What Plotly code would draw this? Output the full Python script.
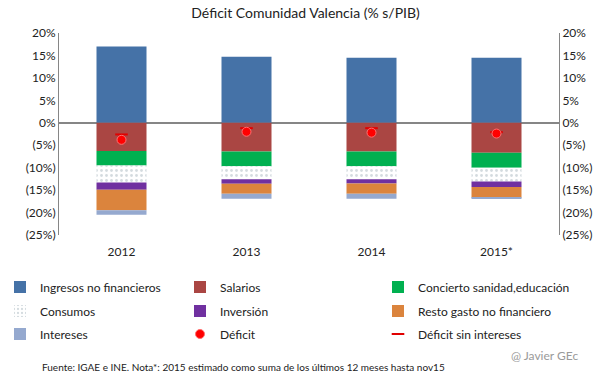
import plotly.graph_objects as go

years = ["2012", "2013", "2014", "2015*"]
ingresos = [17.0, 14.7, 14.5, 14.5]
salarios = [-6.3, -6.4, -6.4, -6.7]
concierto = [-3.2, -3.3, -3.3, -3.3]
consumos = [-3.8, -2.9, -2.9, -3.1]
inversion = [-1.6, -1.0, -0.9, -1.2]
resto = [-4.6, -2.2, -2.3, -2.4]
intereses = [-1.0, -1.1, -1.1, -0.3]
deficit = [-3.8, -2.0, -2.2, -2.4]
deficit_sin_int = [-2.6, -1.2, -1.2, -2.1]

tick_vals = [20, 15, 10, 5, 0, -5, -10, -15, -20, -25]
tick_text = ["20%", "15%", "10%", "5%", "0%", "(5%)", "(10%)", "(15%)", "(20%)", "(25%)"]

FONT = "Lato"
W, H = 605, 378
# legend slot positions (text left x, row centre y) in pixels
col_x = [40, 220, 418]
row_y = [287, 311, 334]

fig = go.Figure()
legend_layouts = {}
slot = [0]

def next_legend():
    i = slot[0]
    slot[0] += 1
    r, c = divmod(i, 3)
    name = "legend" if i == 0 else f"legend{i + 1}"
    legend_layouts[name] = dict(
        orientation="h", xref="container", yref="container",
        x=(col_x[c] - 40) / W, y=1 - row_y[r] / H, xanchor="left", yanchor="middle",
        itemwidth=30, bgcolor="rgba(0,0,0,0)",
        font=dict(family=FONT, size=12, color="#222222"))
    return name

def bar(name, vals, color, pattern=None):
    kw = dict(x=years, y=vals, name=name, marker_color=color, marker_line_width=0,
              legend=next_legend())
    if pattern:
        kw["marker_pattern"] = pattern
    fig.add_trace(go.Bar(**kw))

bar("Ingresos no financieros", ingresos, "#4572A7")
bar("Salarios", salarios, "#AA4643")
bar("Concierto sanidad,educación", concierto, "#00B050")
bar("Consumos", consumos, "#FFFFFF",
    dict(shape=".", fgcolor="#A9B8C0", bgcolor="#FFFFFF", size=5, solidity=0.25))
bar("Inversión", inversion, "#7030A0")
bar("Resto gasto no financiero", resto, "#DB843D")
bar("Intereses", intereses, "#95A9CF")

leg_def = next_legend()
leg_sin = next_legend()
fig.add_trace(go.Scatter(x=years, y=deficit_sin_int, name="Déficit sin intereses", mode="markers",
                         legend=leg_sin,
                         marker=dict(color="#E00000", size=9, symbol="line-ew",
                                     line=dict(color="#E00000", width=2))))
fig.add_trace(go.Scatter(x=years, y=deficit, name="Déficit", mode="markers", legend=leg_def,
                         marker=dict(color="#FF0000", size=9, symbol="circle",
                                     line=dict(color="#FF7070", width=1))))
fig.add_trace(go.Scatter(x=years, y=deficit, yaxis="y2", mode="markers",
                         marker=dict(opacity=0), showlegend=False, hoverinfo="skip"))

axis_common = dict(range=[-25, 20], tickvals=tick_vals, ticktext=tick_text,
                   showgrid=False, showline=True, linecolor="#868686", linewidth=1,
                   ticks="", tickfont=dict(family=FONT, size=12, color="#222222"))

fig.update_layout(
    width=W, height=H,
    paper_bgcolor="white", plot_bgcolor="white",
    barmode="relative", bargap=0.6,
    margin=dict(l=59, r=46, t=33, b=143, autoexpand=False),
    title=dict(text="Déficit Comunidad Valencia (% s/PIB)", x=0.505, xanchor="center",
               y=1 - 13 / H, yanchor="middle", font=dict(family=FONT, size=14, color="#222222")),
    xaxis=dict(showgrid=False, showline=False, ticks="", ticklabelstandoff=8,
               tickfont=dict(family=FONT, size=12, color="#222222")),
    yaxis=dict(zeroline=True, zerolinecolor="#868686", zerolinewidth=1.5, **axis_common),
    yaxis2=dict(overlaying="y", side="right", zeroline=False, **axis_common),
    showlegend=True,
    annotations=[
        dict(text="Fuente: IGAE e INE. Nota*: 2015 estimado como suma de los últimos 12 meses hasta nov15",
             xref="paper", yref="paper", x=-0.038, y=-0.653, xanchor="left", yanchor="middle",
             showarrow=False, font=dict(family=FONT, size=10, color="#222222")),
        dict(text="@ Javier GEc", xref="paper", yref="paper", x=1.042, y=-0.599,
             xanchor="right", yanchor="middle", showarrow=False,
             font=dict(family=FONT, size=12, color="#9A9A9A")),
    ],
)
fig.update_layout(**legend_layouts)

fig.write_html("out.html", config={"displayModeBar": False},
               post_script="document.body.style.margin='0';")
